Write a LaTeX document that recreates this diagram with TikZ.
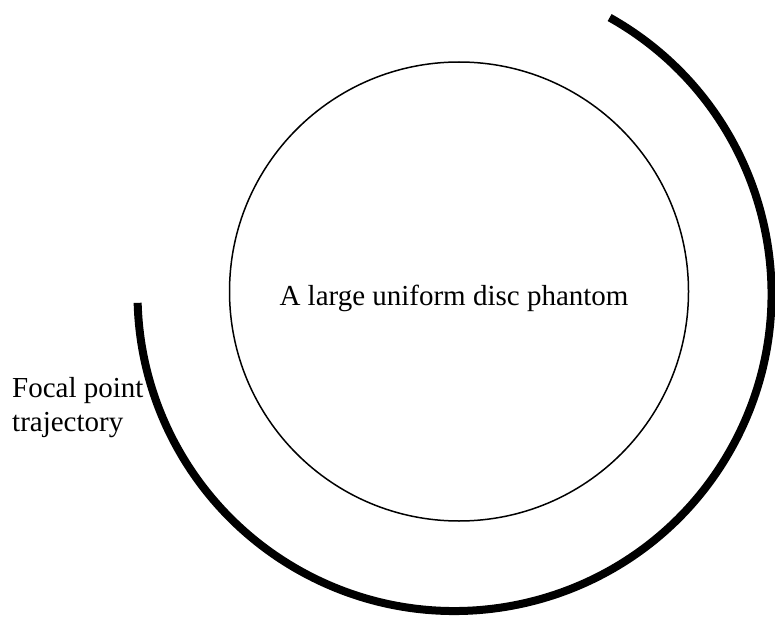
\documentclass[tikz,border=0pt]{standalone}
\usepackage{fontspec}
\setmainfont{Liberation Serif}
\begin{document}
\begin{tikzpicture}[x=1pt,y=1pt,
  lbl/.style={inner sep=0pt,font=\fontsize{29}{33}\selectfont}]
\useasboundingbox (0,0) rectangle (775,-620);
\coordinate (cc) at (459,-291.5);
\coordinate (ac) at (454.5,-294);
\draw[line width=1.5pt] (cc) circle[radius=229.5];
\draw[line width=8pt] ([shift={(60.7:317)}]ac) arc[start angle=60.7,end angle=-178.4,radius=317];
\node[lbl,anchor=base] (disc) at (454,-305) {A large uniform disc phantom};
\node[lbl,anchor=base west] (focal1) at (12,-397.5) {Focal point};
\node[lbl,anchor=base west] (focal2) at (12,-431) {trajectory};
\end{tikzpicture}
\end{document}
